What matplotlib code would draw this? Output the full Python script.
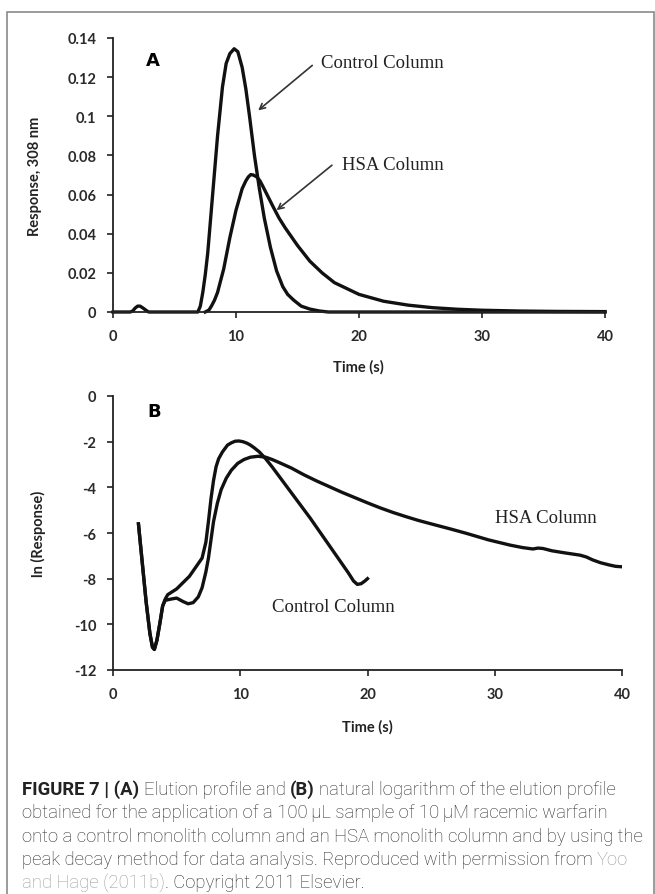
import matplotlib
matplotlib.use('Agg')
import matplotlib.pyplot as plt
from matplotlib.patches import Rectangle

W, H = 655, 895

# panel A: elution profile
ctrl_t = [0, 1.4, 1.6, 1.8, 2.0, 2.2, 2.4, 2.7, 2.9, 3.5, 5, 6.9, 7.1, 7.3, 7.5, 7.7, 8.1, 8.5, 8.9,
          9.2, 9.5, 9.85, 10.15, 10.5, 10.8, 11.1, 11.5, 11.9, 12.3, 12.8, 13.3, 13.8, 14.2, 14.7,
          15.3, 16.0, 16.8, 17.5, 20, 30, 40]
ctrl_y = [0, 0, 0.0005, 0.002, 0.003, 0.003, 0.0022, 0.0008, 0, 0, 0, 0, 0.003, 0.01, 0.019, 0.03,
          0.06, 0.09, 0.115, 0.127, 0.132, 0.1345, 0.133, 0.125, 0.114, 0.1, 0.08, 0.063, 0.048,
          0.033, 0.021, 0.013, 0.009, 0.006, 0.003, 0.0015, 0.0005, 0, 0, 0, 0]
hsa_t = [7.5, 7.8, 8.0, 8.25, 8.5, 9.0, 9.5, 10.0, 10.5, 10.8, 11.0, 11.2, 11.4, 11.7, 11.95, 12.2,
         12.6, 13, 13.5, 14, 15, 16, 17, 18, 19, 20, 22, 24, 26, 28, 30, 33, 36, 40]
hsa_y = [0, 0.001, 0.003, 0.006, 0.01, 0.022, 0.038, 0.052, 0.063, 0.067, 0.069, 0.0702, 0.07,
         0.069, 0.067, 0.064, 0.059, 0.054, 0.048, 0.043, 0.034, 0.026, 0.020, 0.015, 0.012, 0.009,
         0.0055, 0.0035, 0.0022, 0.0014, 0.0009, 0.0005, 0.0003, 0.0002]

# panel B: ln(response)
lnctrl_t = [2.0, 2.3, 2.6, 2.9, 3.1, 3.25, 3.45, 3.7, 3.9, 4.1, 4.3, 5.0, 6.0, 7.0, 7.3, 7.5, 7.7,
            7.9, 8.1, 8.3, 8.6, 9.0, 9.3, 9.6, 9.9, 10.2, 10.5, 10.8, 11.1, 11.5, 12.0, 12.5, 13.5,
            14.5, 15.5, 16.5, 17.5, 18.5, 18.9, 19.2, 19.5, 19.8, 20.0]
lnctrl_y = [-5.6, -7.3, -9.0, -10.4, -11.0, -11.1, -10.7, -9.9, -9.2, -8.9, -8.7, -8.45, -7.9, -7.1,
            -6.4, -5.5, -4.5, -3.7, -3.1, -2.75, -2.45, -2.15, -2.05, -1.98, -1.97, -2.0, -2.06,
            -2.15, -2.27, -2.45, -2.75, -3.1, -3.85, -4.6, -5.35, -6.15, -6.95, -7.75, -8.1, -8.25,
            -8.22, -8.1, -8.0]
lnhsa_t = [2.0, 2.3, 2.6, 2.9, 3.1, 3.25, 3.45, 3.7, 3.9, 4.1, 4.5, 5.0, 5.5, 5.9, 6.3, 6.7, 7.0,
           7.3, 7.5, 7.7, 7.9, 8.2, 8.5, 8.9, 9.3, 9.8, 10.3, 10.8, 11.4, 12.0, 12.5, 13, 14, 15, 16,
           17, 18, 19, 20, 21, 22, 23, 24, 25, 26.5, 27.8, 29.5, 31.2, 32.2, 33.0, 33.4, 33.8, 34.5,
           35.5, 36.7, 37.2, 37.7, 38.3, 39.0, 39.5, 40]
lnhsa_y = [-5.6, -7.3, -9.0, -10.4, -11.0, -11.1, -10.7, -9.9, -9.2, -8.95, -8.9, -8.85, -9.0, -9.1,
           -9.05, -8.8, -8.4, -7.7, -7.1, -6.3, -5.5, -4.7, -4.1, -3.6, -3.25, -2.95, -2.78, -2.68,
           -2.64, -2.68, -2.78, -2.9, -3.15, -3.45, -3.72, -3.97, -4.22, -4.45, -4.68, -4.9, -5.1,
           -5.28, -5.45, -5.6, -5.82, -6.02, -6.3, -6.53, -6.64, -6.7, -6.66, -6.68, -6.78, -6.87,
           -6.97, -7.05, -7.18, -7.3, -7.4, -7.46, -7.48]

xticks = [0, 10, 20, 30, 40]
yticksA = [0, 0.02, 0.04, 0.06, 0.08, 0.1, 0.12, 0.14]
ylabelsA = ['0', '0.02', '0.04', '0.06', '0.08', '0.1', '0.12', '0.14']
yticksB = [0, -2, -4, -6, -8, -10, -12]

caption = [
    [("FIGURE 7 | (A)", 'bold', '#222'), ("Elution profile and", 'light', '#2a2a2a'),
     ("(B)", 'bold', '#222'), ("natural logarithm of the elution profile", 'light', '#2a2a2a')],
    [("obtained for the application of a 100\u2009\u03bcL sample of 10\u2009\u03bcM racemic warfarin", 'light', '#2a2a2a')],
    [("onto a control monolith column and an HSA monolith column and by using the", 'light', '#2a2a2a')],
    [("peak decay method for data analysis. Reproduced with permission from", 'light', '#2a2a2a'),
     ("Yoo", 'light', '#999999')],
    [("and Hage (2011b)", 'light', '#999999'), (". Copyright 2011 Elsevier.", 'light', '#2a2a2a', False)],
]

tick_font = 'Lato'
fig = plt.figure(figsize=(W / 100, H / 100), dpi=100)

def style(ax, yt, yl):
    ax.set_xlim(0, 40)
    ax.set_xticks(xticks)
    ax.set_yticks(yt)
    ax.set_yticklabels(yl)
    for s in ['top', 'right']:
        ax.spines[s].set_visible(False)
    for s in ['left', 'bottom']:
        ax.spines[s].set_linewidth(1.3)
        ax.spines[s].set_color('#222')
    ax.tick_params(direction='out', length=4, width=1.2, color='#222', pad=8,
                   labelsize=10.5, labelcolor='#2a2a2a')
    for lab in ax.get_xticklabels() + ax.get_yticklabels():
        lab.set_family(tick_font)
        lab.set_fontweight('bold')

axA = fig.add_axes([113 / W, 1 - 313 / H, 492 / W, 274 / H])
axA.plot(ctrl_t, ctrl_y, color='#111', lw=2.4, clip_on=False, solid_joinstyle='round')
axA.plot(hsa_t, hsa_y, color='#111', lw=2.4, clip_on=False, solid_joinstyle='round')
axA.set_ylim(0, 0.14)
style(axA, yticksA, ylabelsA)
axA.set_xlabel('Time (s)', family=tick_font, fontweight='bold', fontsize=10.5, color='#222')
axA.set_ylabel('Response, 308 nm', family=tick_font, fontweight='bold', fontsize=10.5, color='#222')
axA.xaxis.set_label_coords(0.498, -0.172)
axA.yaxis.set_label_coords(-0.144, 0.5)
axA.text(3.2, 0.129, 'A', family='DejaVu Sans', fontweight='bold', fontsize=13, ha='center', va='center')
axA.text(16.9, 0.1277, 'Control Column', family='Liberation Serif', fontsize=13.5, ha='left', va='center', color='#222')
axA.text(18.6, 0.0756, 'HSA Column', family='Liberation Serif', fontsize=13.5, ha='left', va='center', color='#222')
arrow = dict(arrowstyle='->', color='#333', lw=1.2, shrinkA=0, shrinkB=0)
axA.annotate('', xy=(11.8, 0.103), xytext=(16.2, 0.126), arrowprops=arrow)
axA.annotate('', xy=(13.3, 0.052), xytext=(17.8, 0.075), arrowprops=arrow)

axB = fig.add_axes([113 / W, 1 - 671 / H, 509 / W, 274 / H])
axB.plot(lnctrl_t, lnctrl_y, color='#111', lw=2.4, solid_joinstyle='round')
axB.plot(lnhsa_t, lnhsa_y, color='#111', lw=2.4, solid_joinstyle='round')
axB.set_ylim(-12, 0)
style(axB, yticksB, [str(v) for v in yticksB])
axB.set_xlabel('Time (s)', family=tick_font, fontweight='bold', fontsize=10.5, color='#222')
axB.set_ylabel('ln (Response)', family=tick_font, fontweight='bold', fontsize=10.5, color='#222')
axB.xaxis.set_label_coords(0.5, -0.179)
axB.yaxis.set_label_coords(-0.132, 0.5)
axB.text(3.2, -0.66, 'B', family='DejaVu Sans', fontweight='bold', fontsize=13, ha='center', va='center')
axB.text(34.0, -5.3, 'HSA Column', family='Liberation Serif', fontsize=13.5, ha='center', va='center', color='#222')
axB.text(17.3, -9.2, 'Control Column', family='Liberation Serif', fontsize=13.5, ha='center', va='center', color='#222')

# frame round the figure
fig.add_artist(Rectangle((7 / W, -0.1), (654 - 7) / W, 1 - 13 / H + 0.1, transform=fig.transFigure,
                         fill=False, ec='#8a8a8a', lw=1.2))

# caption, drawn run by run
cap_font = 'Roboto'
renderer = fig.canvas.get_renderer()

def text_w(s, size, weight):
    t = fig.text(0, 0, s, fontsize=size, fontweight=weight, family=cap_font)
    w = t.get_window_extent(renderer).width
    t.remove()
    return w

size = 12
w3 = text_w(caption[2][0][0], size, 'light')
size = size * 622 / w3
space = text_w('x x', size, 'light') - text_w('xx', size, 'light')

y0 = 790
for i, line in enumerate(caption):
    x = 22
    for j, run in enumerate(line):
        txt, weight, color = run[:3]
        gap = run[3] if len(run) > 3 else True
        if j > 0 and gap:
            x += space
        t = fig.text(x / W, 1 - (y0 + i * 23.3) / H, txt, fontsize=size, fontweight=weight,
                     family=cap_font, color=color, ha='left', va='center')
        x += t.get_window_extent(renderer).width

fig.savefig('out.png', dpi=100)
